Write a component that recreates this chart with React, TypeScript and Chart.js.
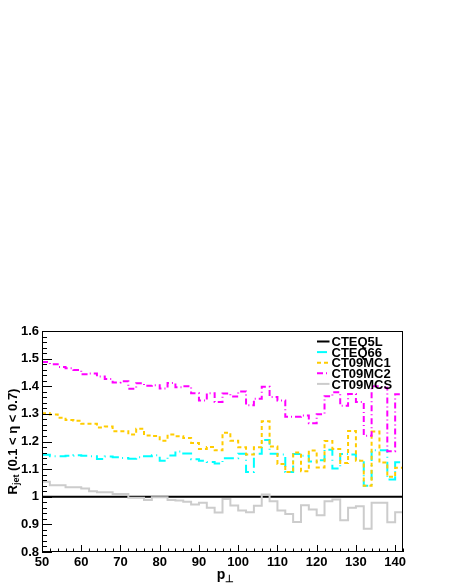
import React, { useEffect, useRef } from "react";
import { Chart, registerables } from "chart.js";

Chart.register(...registerables);

// ---------- data ----------
const ptBinLow = [
  50, 52, 54, 56, 58, 60, 62, 64, 66, 68, 70, 72, 74, 76, 78, 80, 82, 84, 86, 88, 90, 92, 94,
  96, 98, 100, 102, 104, 106, 108, 110, 112, 114, 116, 118, 120, 122, 124, 126, 128, 130, 132,
  134, 136, 138, 140,
];
const ptUpperEdge = 142;

const cteq5l = [
  1, 1, 1, 1, 1, 1, 1, 1, 1, 1, 1, 1, 1, 1, 1, 1, 1, 1, 1, 1, 1, 1, 1, 1, 1, 1, 1, 1, 1, 1, 1,
  1, 1, 1, 1, 1, 1, 1, 1, 1, 1, 1, 1, 1, 1, 1,
];
const cteq66 = [
  1.152, 1.147, 1.147, 1.148, 1.15, 1.148, 1.147, 1.137, 1.146, 1.143,
  1.14, 1.138, 1.143, 1.147, 1.15, 1.13, 1.149, 1.164, 1.157, 1.136,
  1.13, 1.126, 1.12, 1.139, 1.139, 1.156, 1.09, 1.156, 1.205, 1.156,
  1.153, 1.09, 1.155, 1.148, 1.128, 1.132, 1.17, 1.102, 1.155, 1.153,
  1.131, 1.04, 1.168, 1.168, 1.062, 1.125,
];
const ct09mc1 = [
  1.302, 1.298, 1.286, 1.278, 1.275, 1.264, 1.264, 1.251, 1.254, 1.237,
  1.237, 1.225, 1.246, 1.222, 1.22, 1.203, 1.225, 1.219, 1.213, 1.195,
  1.173, 1.18, 1.168, 1.232, 1.203, 1.179, 1.153, 1.179, 1.273, 1.182,
  1.119, 1.09, 1.16, 1.092, 1.167, 1.106, 1.202, 1.173, 1.122, 1.238,
  1.13, 1.04, 1.236, 1.124, 1.072, 1.105,
];
const ct09mc2 = [
  1.488, 1.48, 1.47, 1.465, 1.459, 1.443, 1.446, 1.435, 1.426, 1.414,
  1.418, 1.391, 1.411, 1.402, 1.404, 1.392, 1.412, 1.396, 1.4, 1.375,
  1.348, 1.375, 1.343, 1.374, 1.363, 1.381, 1.331, 1.355, 1.398, 1.361,
  1.348, 1.29, 1.29, 1.294, 1.266, 1.299, 1.364, 1.378, 1.329, 1.372,
  1.343, 1.221, 1.4, 1.395, 1.165, 1.371,
];
const ct09mcs = [
  1.054, 1.042, 1.042, 1.034, 1.034, 1.03, 1.02, 1.016, 1.016, 1.01,
  1.01, 0.996, 0.996, 0.988, 0.998, 0.998, 0.988, 0.986, 0.982, 0.972,
  0.978, 0.96, 0.943, 0.992, 0.968, 0.95, 0.944, 0.967, 1.008, 0.984,
  0.95, 0.938, 0.909, 0.969, 0.954, 0.933, 0.984, 0.99, 0.915, 0.96,
  0.966, 0.884, 0.978, 0.978, 0.908, 0.944,
];

const seriesNames = ["CTEQ5L", "CTEQ66", "CT09MC1", "CT09MC2", "CT09MCS"];
const xTickValues = [50, 60, 70, 80, 90, 100, 110, 120, 130, 140];
const yTickValues = [0.8, 0.9, 1.0, 1.1, 1.2, 1.3, 1.4, 1.5, 1.6];
const yTickLabels = ["0.8", "0.9", "1", "1.1", "1.2", "1.3", "1.4", "1.5", "1.6"];

const X_MIN = 50;
const X_MAX = 142;
const Y_MIN = 0.8;
const Y_MAX = 1.6;

// ---------- styles ----------
const FONT = '"Liberation Sans", Arial, Helvetica, sans-serif';
const styles = [
  { color: "#000000", dash: [] as number[], order: 5 },
  { color: "#00ffff", dash: [10, 4, 1, 4], order: 4 },
  { color: "#ffcc00", dash: [4, 3], order: 3 },
  { color: "#ff00ff", dash: [6, 3, 1, 3], order: 2 },
  { color: "#cccccc", dash: [] as number[], order: 1 },
];

function toSteps(vals: number[]) {
  const pts = ptBinLow.map((x, i) => ({ x, y: vals[i] }));
  pts.push({ x: ptUpperEdge, y: vals[vals.length - 1] });
  return pts;
}

const rootPlugin = {
  id: "rootStyle",
  afterDatasetsDraw(chart: any) {
    const { ctx, chartArea: a, scales } = chart;
    const xs = scales.x;
    const ys = scales.y;
    ctx.save();
    ctx.strokeStyle = "#000";
    ctx.lineWidth = 1;
    // frame
    ctx.strokeRect(a.left + 0.5, a.top + 0.5, a.right - a.left - 1, a.bottom - a.top - 1);
    // x ticks (inside, upwards)
    ctx.beginPath();
    for (let k = 0; X_MIN + 2 * k <= X_MAX + 1e-9; k++) {
      const v = X_MIN + 2 * k;
      const px = Math.round(xs.getPixelForValue(v)) + 0.5;
      const len = v % 10 === 0 ? 7 : 3.5;
      ctx.moveTo(px, a.bottom);
      ctx.lineTo(px, a.bottom - len);
    }
    // y ticks (inside, rightwards)
    for (let k = 0; k <= 40; k++) {
      const v = Y_MIN + 0.02 * k;
      const py = Math.round(ys.getPixelForValue(v)) + 0.5;
      const len = k % 5 === 0 ? 10 : 5;
      ctx.moveTo(a.left, py);
      ctx.lineTo(a.left + len, py);
    }
    ctx.stroke();

    // axis titles
    ctx.fillStyle = "#000";
    ctx.textBaseline = "alphabetic";
    // x title: p with subscript perp
    const big = `bold 14px ${FONT}`;
    const small = `bold 10px ${FONT}`;
    ctx.font = big;
    const pW = ctx.measureText("p").width;
    ctx.font = small;
    const perpW = ctx.measureText("\u22A5").width;
    const xCenter = (a.left + a.right) / 2 + 3;
    let x0 = xCenter - (pW + perpW) / 2;
    ctx.font = big;
    ctx.textAlign = "left";
    ctx.fillText("p", x0, 579);
    ctx.font = small;
    ctx.fillText("\u22A5", x0 + pW, 582);

    // y title, rotated
    const yBig = `bold 13px ${FONT}`;
    const ySmall = `bold 9px ${FONT}`;
    ctx.font = yBig;
    const rW = ctx.measureText("R").width;
    const restText = " (0.1 < \u03B7 < 0.7)";
    const restW = ctx.measureText(restText).width;
    ctx.font = ySmall;
    const jetW = ctx.measureText("jet").width;
    const total = rW + jetW + restW;
    const yc = (a.top + a.bottom) / 2;
    ctx.translate(16.5, yc);
    ctx.rotate(-Math.PI / 2);
    let t = -total / 2;
    ctx.font = yBig;
    ctx.fillText("R", t, 0);
    t += rW;
    ctx.font = ySmall;
    ctx.fillText("jet", t, 2.5);
    t += jetW;
    ctx.font = yBig;
    ctx.fillText(restText, t, 0);
    ctx.restore();

    // legend (no fill, overlapping rows like ROOT)
    ctx.save();
    const ds = chart.data.datasets;
    ctx.font = `bold 13px ${FONT}`;
    ctx.textAlign = "left";
    ctx.textBaseline = "alphabetic";
    for (let i = 0; i < ds.length; i++) {
      const cy = 341.5 + i * 10.6;
      ctx.strokeStyle = ds[i].borderColor;
      ctx.lineWidth = 2;
      ctx.setLineDash(ds[i].borderDash || []);
      ctx.beginPath();
      ctx.moveTo(317, cy);
      ctx.lineTo(329.5, cy);
      ctx.stroke();
      ctx.setLineDash([]);
      ctx.fillStyle = "#000";
      ctx.fillText(ds[i].label, 331.5, cy + 4.7);
    }
    ctx.restore();
  },
};

export default function App() {
  const ref = useRef<HTMLCanvasElement | null>(null);
  useEffect(() => {
    if (!ref.current) return;
    const all = [cteq5l, cteq66, ct09mc1, ct09mc2, ct09mcs];
    const chart = new Chart(ref.current, {
      type: "line",
      data: {
        datasets: all.map((vals, i) => ({
          label: seriesNames[i],
          data: toSteps(vals),
          borderColor: styles[i].color,
          borderDash: styles[i].dash,
          borderWidth: 2,
          stepped: true,
          pointRadius: 0,
          fill: false,
          order: styles[i].order,
        })),
      },
      options: {
        responsive: false,
        animation: false,
        devicePixelRatio: 1,
        layout: { padding: { left: 0, top: 331, right: 51, bottom: 0 } },
        plugins: { legend: { display: false }, tooltip: { enabled: false }, title: { display: false } },
        scales: {
          x: {
            type: "linear",
            min: X_MIN,
            max: X_MAX,
            grid: { display: false, drawTicks: false },
            border: { display: false },
            afterBuildTicks: (s: any) => {
              s.ticks = xTickValues.map((v) => ({ value: v }));
            },
            afterFit: (s: any) => {
              s.height = 35;
            },
            ticks: {
              autoSkip: false,
              maxRotation: 0,
              padding: 3,
              color: "#000",
              font: { family: FONT, weight: "bold", size: 13 },
              callback: (v: any) => String(v),
            },
          },
          y: {
            type: "linear",
            min: Y_MIN,
            max: Y_MAX,
            grid: { display: false, drawTicks: false },
            border: { display: false },
            afterBuildTicks: (s: any) => {
              s.ticks = yTickValues.map((v) => ({ value: v }));
            },
            afterFit: (s: any) => {
              s.width = 42;
            },
            ticks: {
              autoSkip: false,
              padding: 3,
              color: "#000",
              font: { family: FONT, weight: "bold", size: 13 },
              callback: (v: any) => {
                const idx = yTickValues.findIndex((t) => Math.abs(t - v) < 1e-6);
                return idx >= 0 ? yTickLabels[idx] : "";
              },
            },
          },
        },
      } as any,
      plugins: [rootPlugin],
    });
    return () => chart.destroy();
  }, []);
  return (
    <div style={{ position: "absolute", left: 0, top: 0, width: 454, height: 587, background: "#fff" }}>
      <canvas ref={ref} width={454} height={587} style={{ display: "block" }} />
    </div>
  );
}
